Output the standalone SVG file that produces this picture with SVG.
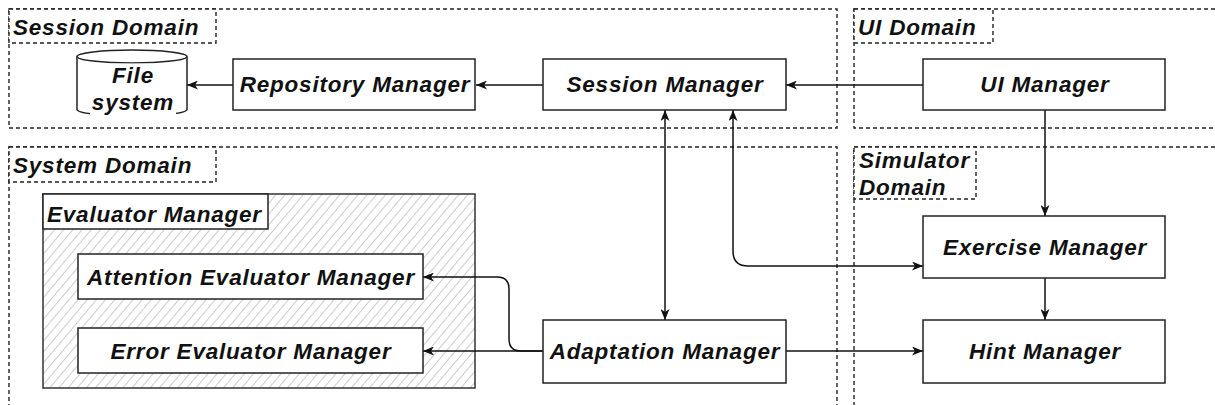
<svg xmlns="http://www.w3.org/2000/svg" width="1215" height="405" viewBox="0 0 1215 405">
  <style>
    .dom{fill:none;stroke:#222;stroke-width:1.4;stroke-dasharray:4 3}
    .dlbl{fill:#fff;stroke:#222;stroke-width:1.4;stroke-dasharray:4 3}
    .box{fill:#fff;stroke:#222;stroke-width:1.5}
    .t{font-family:"Liberation Sans",Arial,sans-serif;font-size:22.5px;font-weight:bold;font-style:italic;letter-spacing:0.8px;fill:#111}
    .c{text-anchor:middle}
    .ln{fill:none;stroke:#111;stroke-width:1.5}
    .one{marker-end:url(#arr)}
    .two{marker-start:url(#arr);marker-end:url(#arr)}
  </style>
  <defs>
    <marker id="arr" viewBox="0 0 11 9" refX="11" refY="4.5" markerWidth="11" markerHeight="9" markerUnits="userSpaceOnUse" orient="auto-start-reverse">
      <path d="M0,0 L11,4.5 L0,9 L3,4.5 Z" fill="#111"/>
    </marker>
    <pattern id="hatch" width="7" height="7" patternUnits="userSpaceOnUse" patternTransform="rotate(40)">
      <line x1="0" y1="0" x2="0" y2="7" stroke="#999" stroke-width="1"/>
    </pattern>
  </defs>
  <rect width="1215" height="405" fill="#fff"/>

  <!-- domains -->
  <g id="session-domain">
    <rect class="dom" x="9" y="9" width="828" height="119"/>
    <rect class="dlbl" x="9" y="9" width="207" height="34"/>
    <text class="t" x="13" y="35">Session Domain</text>
  </g>
  <g id="ui-domain">
    <rect class="dom" x="854" y="9" width="400" height="119"/>
    <rect class="dlbl" x="854" y="9" width="139" height="34"/>
    <text class="t" x="858" y="35">UI Domain</text>
  </g>
  <g id="system-domain">
    <rect class="dom" x="9" y="147" width="828" height="300"/>
    <rect class="dlbl" x="9" y="147" width="207" height="35"/>
    <text class="t" x="13" y="173">System Domain</text>
  </g>
  <g id="simulator-domain">
    <rect class="dom" x="854" y="147" width="400" height="300"/>
    <rect class="dlbl" x="854" y="147" width="122" height="52"/>
    <text class="t" x="859" y="168">Simulator</text>
    <text class="t" x="859" y="195">Domain</text>
  </g>

  <!-- evaluator container with hatched fill -->
  <g id="evaluator-manager">
    <rect x="43" y="194" width="432" height="194" fill="#fff"/>
    <rect x="43" y="194" width="432" height="194" fill="url(#hatch)" stroke="#333" stroke-width="1.5"/>
    <rect class="box" x="43" y="194" width="225" height="35"/>
    <text class="t" x="47" y="222">Evaluator Manager</text>
  </g>

  <!-- connectors -->
  <g id="connectors">
    <path class="ln one" d="M543,85 H476"/>
    <path class="ln one" d="M233,85 H187"/>
    <path class="ln one" d="M923,85 H786"/>
    <path class="ln one" d="M1045,110 V216"/>
    <path class="ln one" d="M1045,278 V320"/>
    <path class="ln two" d="M665,110 V320"/>
    <path class="ln two" d="M733,110 V251 Q733,266 748,266 H923"/>
    <path class="ln one" d="M543,351 H423"/>
    <path class="ln one" d="M543,351 H521 Q509,351 509,339 V289 Q509,277 497,277 H423"/>
    <path class="ln one" d="M786,351 H923"/>
  </g>

  <!-- nodes -->
  <g id="file-system">
    <path d="M77,56.5 V109.5 A55,6.5 0 0 0 187,109.5 V56.5" fill="#fff" stroke="#222" stroke-width="1.5"/>
    <ellipse cx="132" cy="56.5" rx="55" ry="6.5" fill="#fff" stroke="#222" stroke-width="1.5"/>
    <rect x="104" y="63.5" width="57" height="25" fill="#fff"/>
    <rect x="90" y="89" width="86" height="28" fill="#fff"/>
    <text class="t c" x="133" y="83">File</text>
    <text class="t c" x="133" y="110">system</text>
  </g>
  <g id="repository-manager">
    <rect class="box" x="233" y="59" width="242" height="51"/>
    <text class="t c" x="355" y="92">Repository Manager</text>
  </g>
  <g id="session-manager">
    <rect class="box" x="543" y="59" width="243" height="51"/>
    <text class="t c" x="665" y="92">Session Manager</text>
  </g>
  <g id="ui-manager">
    <rect class="box" x="923" y="59" width="242" height="51"/>
    <text class="t c" x="1045" y="92">UI Manager</text>
  </g>
  <g id="exercise-manager">
    <rect class="box" x="923" y="216" width="242" height="62"/>
    <text class="t c" x="1045" y="255">Exercise Manager</text>
  </g>
  <g id="hint-manager">
    <rect class="box" x="923" y="320" width="242" height="63"/>
    <text class="t c" x="1045" y="359">Hint Manager</text>
  </g>
  <g id="adaptation-manager">
    <rect class="box" x="543" y="320" width="243" height="63"/>
    <text class="t c" x="665" y="359">Adaptation Manager</text>
  </g>
  <g id="attention-evaluator-manager">
    <rect class="box" x="78" y="254" width="345" height="45"/>
    <text class="t c" x="251" y="285">Attention Evaluator Manager</text>
  </g>
  <g id="error-evaluator-manager">
    <rect class="box" x="78" y="328" width="345" height="45"/>
    <text class="t c" x="251" y="359">Error Evaluator Manager</text>
  </g>
</svg>
